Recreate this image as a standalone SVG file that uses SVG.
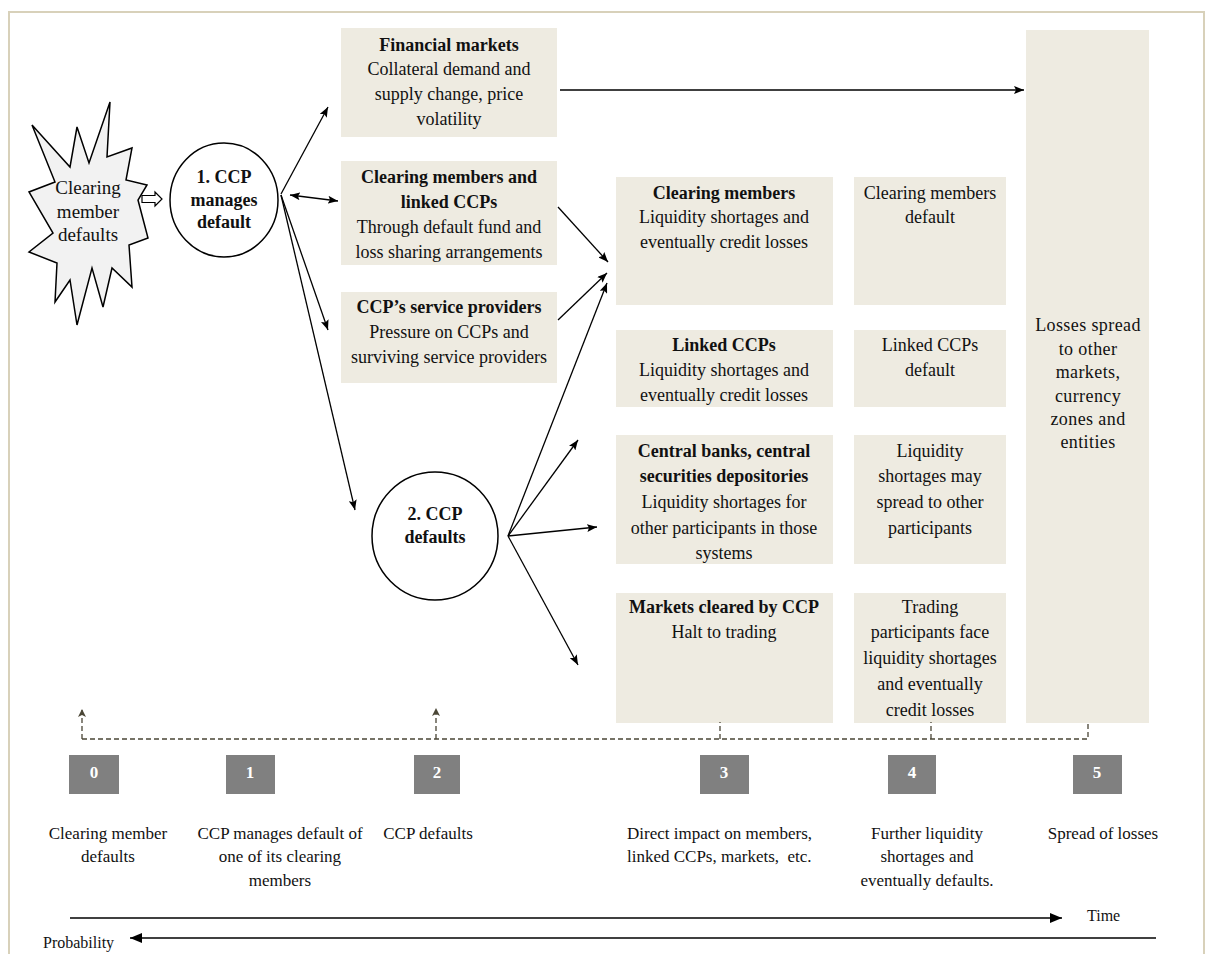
<svg xmlns="http://www.w3.org/2000/svg" width="1206" height="954" viewBox="0 0 1206 954">
<defs>
<marker id="ah" markerUnits="userSpaceOnUse" markerWidth="10" markerHeight="8" refX="10" refY="4" orient="auto-start-reverse"><path d="M0,0 L10,4 L0,8 L2,4 z" fill="#000"/></marker>
<marker id="ahBig" markerUnits="userSpaceOnUse" markerWidth="12" markerHeight="10" refX="12" refY="5" orient="auto"><path d="M0,0 L12,5 L0,10 z" fill="#000"/></marker>
<marker id="ahUp" markerUnits="userSpaceOnUse" markerWidth="8" markerHeight="10" refX="8" refY="4" orient="auto"><path d="M0,0 L8,4 L0,8 L2,4 z" fill="#4a4636"/></marker>
</defs>
<style>
.box{fill:#eeebe1}
.t{font-family:"Liberation Serif","Times New Roman",serif;font-size:18px;fill:#111;text-anchor:middle}
.b{font-weight:bold}
.c5{font-family:"Liberation Serif","Times New Roman",serif;font-size:18px;fill:#111;text-anchor:middle;letter-spacing:0.4px}
.lbl{font-family:"Liberation Serif","Times New Roman",serif;font-size:17px;fill:#111;text-anchor:middle}
.num{fill:#808080}
.numt{font-family:"Liberation Serif","Times New Roman",serif;font-size:17px;font-weight:bold;fill:#fff;text-anchor:middle}
.ln{stroke:#000;stroke-width:1.3;fill:none}
.dash{stroke:#4a4636;stroke-width:1.3;fill:none;stroke-dasharray:5,3}
.circ{fill:#fff;stroke:#000;stroke-width:1.5}
</style>
<rect width="1206" height="954" fill="#fff"/>
<path d="M9,954 L9,12 L1204,12 L1204,954" fill="none" stroke="#d8d1ba" stroke-width="2"/>

<g id="star">
<polygon points="32,125 70,167 77,127 89,163 110,102 107,157 132,148 126,180 147,185 138,200 148,238 129,245 132,287 112,268 103,307 92,268 77,325 70,280 55,302 57,263 29,252 53,233 29,192 55,182" fill="#f2f2f2" stroke="#000" stroke-width="1.5" stroke-linejoin="miter"/>
<text class="t" style="font-size:19px" x="88" y="194">Clearing</text>
<text class="t" style="font-size:19px" x="88" y="218">member</text>
<text class="t" style="font-size:19px" x="88" y="241">defaults</text>
</g>

<g id="ccp1">
<ellipse class="circ" cx="224" cy="200" rx="54" ry="57"/>
<text class="t b" x="224" y="183">1. CCP</text>
<text class="t b" x="224" y="206">manages</text>
<text class="t b" x="224" y="228">default</text>
</g>

<g id="ccp2">
<ellipse class="circ" cx="435" cy="536" rx="63" ry="64"/>
<text class="t b" x="435" y="520">2. CCP</text>
<text class="t b" x="435" y="543">defaults</text>
</g>

<g id="financial-markets">
<rect class="box" x="341" y="28" width="216" height="109"/>
<text class="t b" x="449" y="51">Financial markets</text>
<text class="t" x="449" y="75">Collateral demand and</text>
<text class="t" x="449" y="100">supply change, price</text>
<text class="t" x="449" y="125">volatility</text>
</g>

<g id="members-linked">
<rect class="box" x="341" y="161" width="216" height="104"/>
<text class="t b" x="449" y="183">Clearing members and</text>
<text class="t b" x="449" y="208">linked CCPs</text>
<text class="t" x="449" y="233">Through default fund and</text>
<text class="t" x="449" y="258">loss sharing arrangements</text>
</g>

<g id="service-providers">
<rect class="box" x="341" y="292" width="216" height="91"/>
<text class="t b" x="449" y="313">CCP’s service providers</text>
<text class="t" x="449" y="338">Pressure on CCPs and</text>
<text class="t" x="449" y="363">surviving service providers</text>
</g>

<g id="clearing-members">
<rect class="box" x="616" y="177" width="217" height="128"/>
<text class="t b" x="724" y="199">Clearing members</text>
<text class="t" x="724" y="223">Liquidity shortages and</text>
<text class="t" x="724" y="248">eventually credit losses</text>
</g>

<g id="linked-ccps">
<rect class="box" x="616" y="330" width="217" height="77"/>
<text class="t b" x="724" y="351">Linked CCPs</text>
<text class="t" x="724" y="376">Liquidity shortages and</text>
<text class="t" x="724" y="401">eventually credit losses</text>
</g>

<g id="central-banks">
<rect class="box" x="616" y="435" width="217" height="129"/>
<text class="t b" x="724" y="457">Central banks, central</text>
<text class="t b" x="724" y="482">securities depositories</text>
<text class="t" x="724" y="508">Liquidity shortages for</text>
<text class="t" x="724" y="534">other participants in those</text>
<text class="t" x="724" y="559">systems</text>
</g>

<g id="markets-cleared">
<rect class="box" x="616" y="593" width="217" height="130"/>
<text class="t b" x="724" y="613">Markets cleared by CCP</text>
<text class="t" x="724" y="638">Halt to trading</text>
</g>

<g id="members-default">
<rect class="box" x="854" y="177" width="152" height="128"/>
<text class="t" x="930" y="199">Clearing members</text>
<text class="t" x="930" y="223">default</text>
</g>

<g id="linked-default">
<rect class="box" x="854" y="330" width="152" height="77"/>
<text class="t" x="930" y="351">Linked CCPs</text>
<text class="t" x="930" y="376">default</text>
</g>

<g id="liquidity-spread">
<rect class="box" x="854" y="435" width="152" height="129"/>
<text class="t" x="930" y="457">Liquidity</text>
<text class="t" x="930" y="482">shortages may</text>
<text class="t" x="930" y="508">spread to other</text>
<text class="t" x="930" y="534">participants</text>
</g>

<g id="trading-participants">
<rect class="box" x="854" y="593" width="152" height="130"/>
<text class="t" x="930" y="613">Trading</text>
<text class="t" x="930" y="638">participants face</text>
<text class="t" x="930" y="664">liquidity shortages</text>
<text class="t" x="930" y="690">and eventually</text>
<text class="t" x="930" y="716">credit losses</text>
</g>

<g id="losses-spread">
<rect class="box" x="1026" y="30" width="123" height="693"/>
<text class="c5" x="1088" y="331">Losses spread</text>
<text class="c5" x="1088" y="355">to other</text>
<text class="c5" x="1088" y="378">markets,</text>
<text class="c5" x="1088" y="402">currency</text>
<text class="c5" x="1088" y="425">zones and</text>
<text class="c5" x="1088" y="448">entities</text>
</g>

<g id="connectors">
<path d="M142,195.5 L155,195.5 L155,192 L162,199 L155,206 L155,202.5 L142,202.5 z" fill="#fff" stroke="#000" stroke-width="1.2"/>
<line class="ln" x1="281" y1="194" x2="328" y2="107" marker-end="url(#ah)"/>
<line class="ln" x1="290" y1="195" x2="338" y2="201" marker-start="url(#ah)" marker-end="url(#ah)"/>
<line class="ln" x1="281" y1="195" x2="328" y2="330" marker-end="url(#ah)"/>
<line class="ln" x1="281" y1="195" x2="355" y2="510" marker-end="url(#ah)"/>
<line class="ln" x1="560" y1="90" x2="1024" y2="90" marker-end="url(#ah)"/>
<line class="ln" x1="558" y1="207" x2="608" y2="262" marker-end="url(#ah)"/>
<line class="ln" x1="558" y1="320" x2="607" y2="273" marker-end="url(#ah)"/>
<line class="ln" x1="508" y1="536" x2="607" y2="283" marker-end="url(#ah)"/>
<line class="ln" x1="508" y1="536" x2="578" y2="440" marker-end="url(#ah)"/>
<line class="ln" x1="508" y1="536" x2="597" y2="527" marker-end="url(#ah)"/>
<line class="ln" x1="508" y1="536" x2="578" y2="665" marker-end="url(#ah)"/>
</g>

<g id="timeline">
<path class="dash" d="M82,739 L1088,739 L1088,722"/>
<line class="dash" x1="720" y1="739" x2="720" y2="722"/>
<line class="dash" x1="931" y1="739" x2="931" y2="722"/>
<line class="dash" x1="82" y1="739" x2="82" y2="709" marker-end="url(#ahUp)"/>
<line class="dash" x1="436" y1="739" x2="436" y2="708" marker-end="url(#ahUp)"/>

<rect class="num" x="69" y="755" width="50" height="39"/>
<text class="numt" x="94" y="778">0</text>
<rect class="num" x="226" y="755" width="49" height="39"/>
<text class="numt" x="250" y="778">1</text>
<rect class="num" x="414" y="755" width="46" height="39"/>
<text class="numt" x="437" y="778">2</text>
<rect class="num" x="700" y="755" width="49" height="39"/>
<text class="numt" x="724" y="778">3</text>
<rect class="num" x="888" y="755" width="48" height="39"/>
<text class="numt" x="912" y="778">4</text>
<rect class="num" x="1073" y="755" width="49" height="39"/>
<text class="numt" x="1097" y="778">5</text>

<text class="lbl" x="108" y="839">Clearing member</text>
<text class="lbl" x="108" y="862">defaults</text>
<text class="lbl" x="280" y="839">CCP manages default of</text>
<text class="lbl" x="280" y="862">one of its clearing</text>
<text class="lbl" x="280" y="886">members</text>
<text class="lbl" x="428" y="839">CCP defaults</text>
<text class="lbl" x="627" y="839" style="text-anchor:start">Direct impact on members,</text>
<text class="lbl" x="627" y="862" style="text-anchor:start">linked CCPs, markets,&#160; etc.</text>
<text class="lbl" x="927" y="839">Further liquidity</text>
<text class="lbl" x="927" y="862">shortages and</text>
<text class="lbl" x="927" y="886">eventually defaults.</text>
<text class="lbl" x="1103" y="839">Spread of losses</text>

<line class="ln" x1="70" y1="918" x2="1062" y2="918" marker-end="url(#ahBig)"/>
<text class="lbl" x="1087" y="921" style="text-anchor:start;font-size:16px">Time</text>
<line class="ln" x1="1156" y1="938" x2="130" y2="938" marker-end="url(#ahBig)"/>
<text class="lbl" x="43" y="948" style="text-anchor:start;font-size:16px">Probability</text>
</g>
</svg>
